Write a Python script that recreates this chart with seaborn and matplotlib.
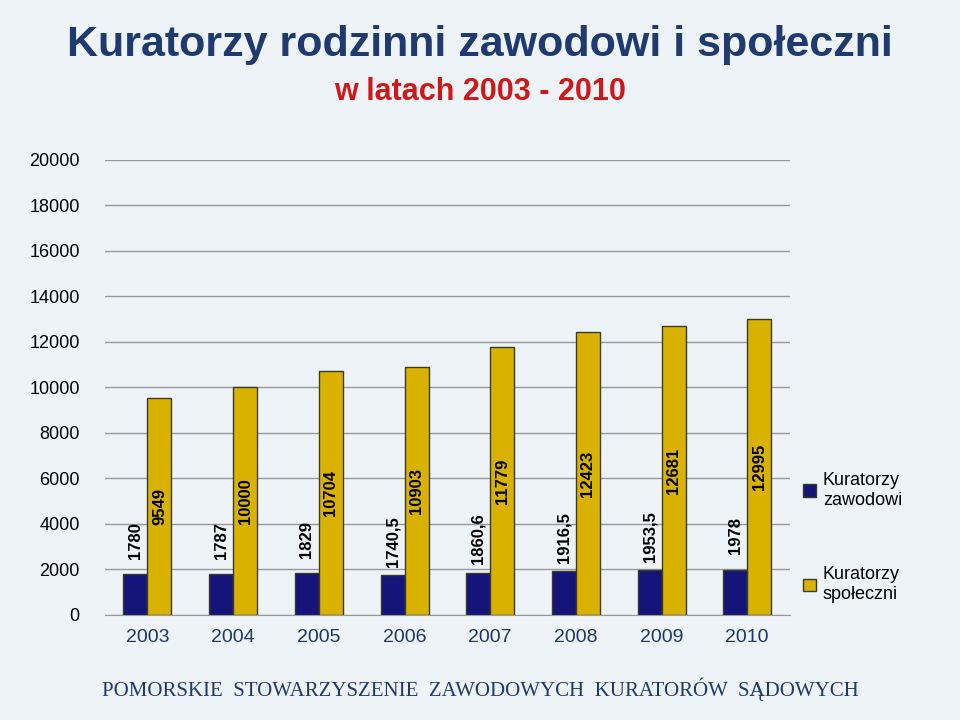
import matplotlib
matplotlib.use("Agg")
import matplotlib.pyplot as plt
import seaborn as sns
import pandas as pd

years = ["2003", "2004", "2005", "2006", "2007", "2008", "2009", "2010"]
zawodowi = [1780, 1787, 1829, 1740.5, 1860.6, 1916.5, 1953.5, 1978]
spoleczni = [9549, 10000, 10704, 10903, 11779, 12423, 12681, 12995]
zaw_labels = ["1780", "1787", "1829", "1740,5", "1860,6", "1916,5", "1953,5", "1978"]
spo_labels = ["9549", "10000", "10704", "10903", "11779", "12423", "12681", "12995"]
series = ["Kuratorzy\nzawodowi", "Kuratorzy\nspołeczni"]

df = pd.DataFrame({
    "Rok": years * 2,
    "Wartość": zawodowi + spoleczni,
    "Typ": [series[0]] * len(years) + [series[1]] * len(years),
})

plt.rcParams["font.family"] = "Liberation Sans"
bg = "#eef3f8"
fig = plt.figure(figsize=(9.6, 7.2), dpi=100, facecolor=bg)
ax = fig.add_axes([0.109, 0.146, 0.714, 0.632], facecolor=bg)

sns.barplot(data=df, x="Rok", y="Wartość", hue="Typ", ax=ax,
            palette=["#14147a", "#d9b200"], width=0.56, saturation=1,
            edgecolor="#3a3a2a", linewidth=1.0, zorder=3)

for i, c in enumerate(ax.containers):
    labs = zaw_labels if i == 0 else spo_labels
    for bar, lab in zip(c, labs):
        xc = bar.get_x() + bar.get_width() / 2
        h = bar.get_height()
        y = h + 1500 if i == 0 else h / 2
        ax.text(xc, y, lab, rotation=90, ha="center", va="center",
                fontsize=12, fontweight="bold", color="black", zorder=4)

ax.set_ylim(0, 20000)
ax.set_yticks(range(0, 20001, 2000))
ax.yaxis.grid(True, color="#999999", linewidth=1, zorder=0)
ax.set_axisbelow(True)
for s in ["top", "right", "left"]:
    ax.spines[s].set_visible(False)
ax.spines["bottom"].set_color("#999999")
ax.tick_params(axis="y", length=0, labelsize=13, pad=18)
ax.tick_params(axis="x", length=0, labelsize=14, labelcolor="#1f3864", pad=10)
ax.set_xlabel("")
ax.set_ylabel("")

handles, labels = ax.get_legend_handles_labels()
ax.legend(handles, labels, loc="center left", bbox_to_anchor=(0.995, 0.17),
          frameon=False, fontsize=13, labelspacing=3.2, handlelength=0.7,
          handleheight=0.7, handletextpad=0.4)

fig.text(0.5, 0.937, "Kuratorzy rodzinni zawodowi i społeczni", ha="center",
         va="center", fontsize=31, fontweight="bold", color="#1f3a6e")
fig.text(0.5, 0.872, "w latach 2003 - 2010", ha="center", va="center",
         fontsize=22, fontweight="bold", color="#d01818")
fig.text(0.5, 0.043, "POMORSKIE  STOWARZYSZENIE  ZAWODOWYCH  KURATORÓW  SĄDOWYCH",
         ha="center", va="center", fontsize=15, family="Liberation Serif",
         color="#1f3a6e")

fig.savefig("out.png", dpi=100, facecolor=bg)
